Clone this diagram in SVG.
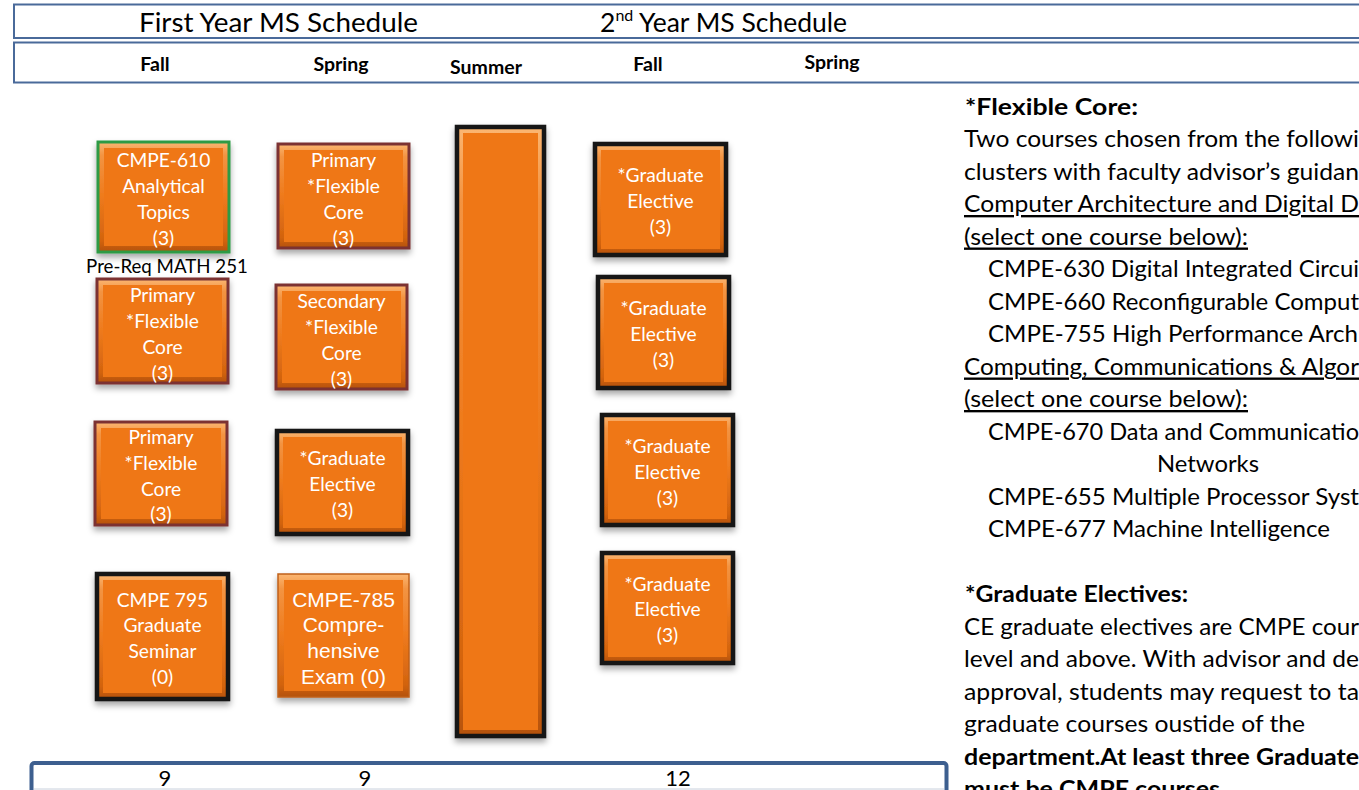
<svg xmlns="http://www.w3.org/2000/svg" width="1359" height="790" viewBox="0 0 1359 790">
<style>
.bx{fill:url(#bev);filter:url(#sh)}
.in{fill:#EF7716}
.g{stroke:#2E9A45;stroke-width:3}
.rd{stroke:#7B3232;stroke-width:3}
.bk{stroke:#141414;stroke-width:4.5}
.or{stroke:#C0601A;stroke-width:1.5}
.t{font-family:Lato,"Open Sans",sans-serif;font-size:19.2px;fill:#fff;text-anchor:middle;dominant-baseline:central}
.ta{font-family:"Liberation Sans",Arial,sans-serif;font-size:21px;fill:#fff;text-anchor:middle;dominant-baseline:central}
.h{font-family:Lato,"Open Sans",sans-serif;fill:#000;dominant-baseline:central}
.hb{font-family:Lato,"Open Sans",sans-serif;font-weight:bold;font-size:19.5px;fill:#000;text-anchor:middle;dominant-baseline:central}
.r{font-family:Lato,"Open Sans",sans-serif;font-size:23.5px;fill:#000;dominant-baseline:central}
.b{font-weight:bold}
.u{text-decoration:underline}
.hl{fill:none;stroke:#4A6A9A;stroke-width:2}
</style>
<defs>
<linearGradient id="bev" x1="0" y1="0" x2="0" y2="1">
<stop offset="0" stop-color="#FBB672"/>
<stop offset="0.12" stop-color="#F39442"/>
<stop offset="0.5" stop-color="#EE7A1C"/>
<stop offset="0.9" stop-color="#D2630F"/>
<stop offset="1" stop-color="#B4520B"/>
</linearGradient>
<filter id="sh" x="-15%" y="-10%" width="130%" height="130%">
<feDropShadow dx="0" dy="4" stdDeviation="3" flood-color="#000" flood-opacity="0.35"/>
</filter>
</defs>
<rect width="1359" height="790" fill="#fff"/>

<g id="header">
<rect class="hl" x="14" y="4.5" width="1360" height="33.5"/>
<rect class="hl" x="14" y="42.5" width="1360" height="40"/>
<text class="h" x="139" y="22" font-size="26.5" textLength="279" lengthAdjust="spacingAndGlyphs">First Year MS Schedule</text>
<text class="h" x="600" y="22" font-size="26.5">2<tspan font-size="16" dy="-8">nd</tspan><tspan dy="8"> Year MS Schedule</tspan></text>
<text class="hb" x="155" y="63">Fall</text>
<text class="hb" x="341" y="63">Spring</text>
<text class="hb" x="486" y="66">Summer</text>
<text class="hb" x="648" y="63">Fall</text>
<text class="hb" x="832" y="61">Spring</text>
</g>

<g id="cmpe610">
<rect class="bx g" x="98" y="142" width="131" height="110"/>
<rect class="in" x="104" y="148" width="119" height="98"/>
<text class="t" x="163.5" y="159">CMPE-610</text>
<text class="t" x="163.5" y="185">Analytical</text>
<text class="t" x="163.5" y="211">Topics</text>
<text class="t" x="163.5" y="237">(3)</text>
</g>
<text id="prereq" class="t" x="167" y="266" style="fill:#000;font-size:18.7px">Pre-Req MATH 251</text>

<g id="fall-core-2">
<rect class="bx rd" x="97" y="279" width="131" height="104"/>
<rect class="in" x="103" y="285" width="119" height="92"/>
<text class="t" x="162.5" y="294">Primary</text>
<text class="t" x="162.5" y="320">*Flexible</text>
<text class="t" x="162.5" y="346">Core</text>
<text class="t" x="162.5" y="372">(3)</text>
</g>

<g id="fall-core-3">
<rect class="bx rd" x="95" y="422" width="132" height="103"/>
<rect class="in" x="101" y="428" width="120" height="91"/>
<text class="t" x="161" y="436">Primary</text>
<text class="t" x="161" y="462">*Flexible</text>
<text class="t" x="161" y="488">Core</text>
<text class="t" x="161" y="513">(3)</text>
</g>

<g id="cmpe795">
<rect class="bx bk" x="97" y="574" width="131" height="125"/>
<rect class="in" x="103" y="580" width="119" height="113"/>
<text class="t" x="162.5" y="599">CMPE 795</text>
<text class="t" x="162.5" y="624">Graduate</text>
<text class="t" x="162.5" y="650">Seminar</text>
<text class="t" x="162.5" y="676">(0)</text>
</g>

<g id="spring-core-1">
<rect class="bx rd" x="278" y="144" width="131" height="104"/>
<rect class="in" x="284" y="150" width="119" height="92"/>
<text class="t" x="343.5" y="159">Primary</text>
<text class="t" x="343.5" y="185">*Flexible</text>
<text class="t" x="343.5" y="211">Core</text>
<text class="t" x="343.5" y="237">(3)</text>
</g>

<g id="spring-core-2">
<rect class="bx rd" x="276" y="285" width="131" height="104"/>
<rect class="in" x="282" y="291" width="119" height="92"/>
<text class="t" x="341.5" y="300">Secondary</text>
<text class="t" x="341.5" y="326">*Flexible</text>
<text class="t" x="341.5" y="352">Core</text>
<text class="t" x="341.5" y="378">(3)</text>
</g>

<g id="spring-elective">
<rect class="bx bk" x="277" y="431" width="131" height="103"/>
<rect class="in" x="283" y="437" width="119" height="91"/>
<text class="t" x="342.5" y="457">*Graduate</text>
<text class="t" x="342.5" y="483">Elective</text>
<text class="t" x="342.5" y="509">(3)</text>
</g>

<g id="cmpe785">
<rect class="bx or" x="278" y="574" width="131" height="123"/>
<rect class="in" x="284" y="580" width="119" height="111"/>
<text class="ta" x="343.5" y="599">CMPE-785</text>
<text class="ta" x="343.5" y="624">Compre-</text>
<text class="ta" x="343.5" y="650">hensive</text>
<text class="ta" x="343.5" y="676">Exam (0)</text>
</g>

<g id="summer">
<rect class="bx bk" x="457" y="127" width="87" height="609"/>
<rect class="in" x="463" y="133" width="75" height="597"/>
</g>

<g id="fall2-elective-1">
<rect class="bx bk" x="595" y="144" width="131" height="111"/>
<rect class="in" x="601" y="150" width="119" height="99"/>
<text class="t" x="660.5" y="174">*Graduate</text>
<text class="t" x="660.5" y="200">Elective</text>
<text class="t" x="660.5" y="226">(3)</text>
</g>

<g id="fall2-elective-2">
<rect class="bx bk" x="598" y="277" width="131" height="111"/>
<rect class="in" x="604" y="283" width="119" height="99"/>
<text class="t" x="663.5" y="307">*Graduate</text>
<text class="t" x="663.5" y="333">Elective</text>
<text class="t" x="663.5" y="359">(3)</text>
</g>

<g id="fall2-elective-3">
<rect class="bx bk" x="602" y="415" width="131" height="110"/>
<rect class="in" x="608" y="421" width="119" height="98"/>
<text class="t" x="667.5" y="445">*Graduate</text>
<text class="t" x="667.5" y="471">Elective</text>
<text class="t" x="667.5" y="497">(3)</text>
</g>

<g id="fall2-elective-4">
<rect class="bx bk" x="602" y="553" width="131" height="110"/>
<rect class="in" x="608" y="559" width="119" height="98"/>
<text class="t" x="667.5" y="583">*Graduate</text>
<text class="t" x="667.5" y="608">Elective</text>
<text class="t" x="667.5" y="634">(3)</text>
</g>

<g id="connectors"></g>

<g id="notes">
<text class="r b" x="965" y="105.5" textLength="173" lengthAdjust="spacingAndGlyphs">*Flexible Core:</text>
<text class="r" x="964" y="138" textLength="395" lengthAdjust="spacingAndGlyphs">Two courses chosen from the followi</text>
<text class="r" x="964" y="170.5" textLength="395" lengthAdjust="spacingAndGlyphs">clusters with faculty advisor’s guidan</text>
<text class="r u" x="964" y="203" textLength="395" lengthAdjust="spacingAndGlyphs">Computer Architecture and Digital D</text>
<text class="r u" x="964" y="235.5" textLength="284" lengthAdjust="spacingAndGlyphs">(select one course below):</text>
<text class="r" x="988" y="268" textLength="371" lengthAdjust="spacingAndGlyphs">CMPE-630 Digital Integrated Circui</text>
<text class="r" x="988" y="300.5" textLength="371" lengthAdjust="spacingAndGlyphs">CMPE-660 Reconfigurable Comput</text>
<text class="r" x="988" y="333" textLength="370" lengthAdjust="spacingAndGlyphs">CMPE-755 High Performance Arch</text>
<text class="r u" x="964" y="365.5" textLength="395" lengthAdjust="spacingAndGlyphs">Computing, Communications &amp; Algor</text>
<text class="r u" x="964" y="398" textLength="284" lengthAdjust="spacingAndGlyphs">(select one course below):</text>
<text class="r" x="988" y="430.5" textLength="371" lengthAdjust="spacingAndGlyphs">CMPE-670 Data and Communicatio</text>
<text class="r" x="1157" y="463" textLength="102" lengthAdjust="spacingAndGlyphs">Networks</text>
<text class="r" x="988" y="495.5" textLength="371" lengthAdjust="spacingAndGlyphs">CMPE-655 Multiple Processor Syst</text>
<text class="r" x="988" y="528" textLength="342" lengthAdjust="spacingAndGlyphs">CMPE-677 Machine Intelligence</text>
<text class="r b" x="965" y="593" textLength="223" lengthAdjust="spacingAndGlyphs">*Graduate Electives:</text>
<text class="r" x="964" y="625.5" textLength="395" lengthAdjust="spacingAndGlyphs">CE graduate electives are CMPE cour</text>
<text class="r" x="964" y="658" textLength="395" lengthAdjust="spacingAndGlyphs">level and above. With advisor and de</text>
<text class="r" x="964" y="690.5" textLength="395" lengthAdjust="spacingAndGlyphs">approval, students may request to ta</text>
<text class="r" x="964" y="723" textLength="341" lengthAdjust="spacingAndGlyphs">graduate courses oustide of the</text>
<text class="r b" x="964" y="755.5" textLength="395" lengthAdjust="spacingAndGlyphs">department.At least three Graduate</text>
<text class="r b" x="964" y="788" textLength="256" lengthAdjust="spacingAndGlyphs">must be  CMPE courses</text>
</g>

<g id="totals">
<rect x="31.5" y="763" width="915" height="40" rx="3" fill="#fff" stroke="#3D5F8F" stroke-width="4"/>
<line x1="34" y1="789" x2="944" y2="789" stroke="#C8D0DC" stroke-width="1"/>
<text class="h" x="165" y="777" font-size="22" text-anchor="middle">9</text>
<text class="h" x="365" y="777" font-size="22" text-anchor="middle">9</text>
<text class="h" x="678" y="777" font-size="22" text-anchor="middle">12</text>
</g>
</svg>
